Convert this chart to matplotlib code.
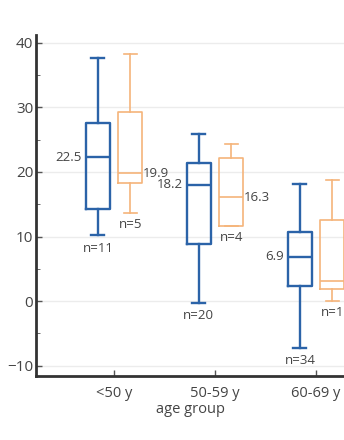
import matplotlib.pyplot as plt

# age groups on the x axis
groups = ['<50 y', '50-59 y', '60-69 y']

# box statistics (blue series, orange series)
blue_whislo = [10.2, -0.3, -7.2]
blue_q1 = [14.2, 8.8, 2.3]
blue_med = [22.3, 18.0, 6.9]
blue_q3 = [27.6, 21.4, 10.7]
blue_whishi = [37.6, 25.8, 18.2]
blue_n = [11, 20, 34]
blue_med_label = ['22.5', '18.2', '6.9']

orange_whislo = [13.6, 11.6, 0.0]
orange_q1 = [18.3, 11.7, 1.9]
orange_med = [19.8, 16.1, 3.1]
orange_q3 = [29.3, 22.1, 12.5]
orange_whishi = [38.2, 24.3, 18.7]
orange_n = [5, 4, 1]
orange_med_label = ['19.9', '16.3', '']

blue = '#2b63a8'
orange = '#f5b47a'
text_col = '#444444'

plt.rcParams['font.family'] = ['Open Sans', 'DejaVu Sans']

fig = plt.figure(figsize=(3.44, 4.40), dpi=100)
ax = fig.add_axes([36 / 344, 64 / 440, 308 / 344, 341 / 440])


def make_stats(lo, q1, med, q3, hi):
    return [dict(whislo=a, q1=b, med=c, q3=d, whishi=e, fliers=[])
            for a, b, c, d, e in zip(lo, q1, med, q3, hi)]


pos = list(range(len(groups)))
off = 0.16

ax.bxp(make_stats(blue_whislo, blue_q1, blue_med, blue_q3, blue_whishi),
       positions=[p - off for p in pos], widths=0.24, capwidths=0.13,
       showfliers=False, manage_ticks=False,
       boxprops=dict(color=blue, lw=1.7), whiskerprops=dict(color=blue, lw=1.7),
       capprops=dict(color=blue, lw=1.7), medianprops=dict(color=blue, lw=1.7))
ax.bxp(make_stats(orange_whislo, orange_q1, orange_med, orange_q3, orange_whishi),
       positions=[p + off for p in pos], widths=0.24, capwidths=0.13,
       showfliers=False, manage_ticks=False,
       boxprops=dict(color=orange, lw=1.2), whiskerprops=dict(color=orange, lw=1.2),
       capprops=dict(color=orange, lw=1.2), medianprops=dict(color=orange, lw=1.2))

# median labels and counts
for i in pos:
    ax.text(i - off - 0.16, blue_med[i], blue_med_label[i], ha='right', va='center',
            fontsize=9.5, color=text_col)
    if orange_med_label[i]:
        ax.text(i + off + 0.13, orange_med[i], orange_med_label[i], ha='left', va='center',
                fontsize=9.5, color=text_col)
    ax.text(i - off, blue_whislo[i] - 2.0, f'n={blue_n[i]}', ha='center', va='center',
            fontsize=9.5, color=text_col)
    ax.text(i + off, orange_whislo[i] - 1.8, f'n={orange_n[i]}', ha='center', va='center',
            fontsize=9.5, color=text_col)

ax.set_xlim(-0.772, 2.277)
ax.set_ylim(-11.6, 41.2)
ax.set_yticks([-10, 0, 10, 20, 30, 40])
ax.set_yticks([-5, 5, 15, 25, 35], minor=True)
ax.set_xticks(pos)
ax.set_xticklabels(groups)
ax.tick_params(axis='both', direction='in', colors='#555555', labelcolor=text_col,
               labelsize=11, length=4, width=1)
ax.tick_params(axis='y', which='minor', direction='in', length=3, color='#555555')
ax.tick_params(axis='y', pad=2)
ax.tick_params(axis='x', pad=7, labelsize=10.5)
ax.set_xlabel('age group', fontsize=10.5, color=text_col, labelpad=1)

ax.yaxis.grid(True, color='#ececec', lw=1)
ax.set_axisbelow(True)
for s in ['top', 'right']:
    ax.spines[s].set_visible(False)
for s in ['left', 'bottom']:
    ax.spines[s].set_linewidth(2)
    ax.spines[s].set_color('#333333')

fig.savefig('out.png', dpi=100)
